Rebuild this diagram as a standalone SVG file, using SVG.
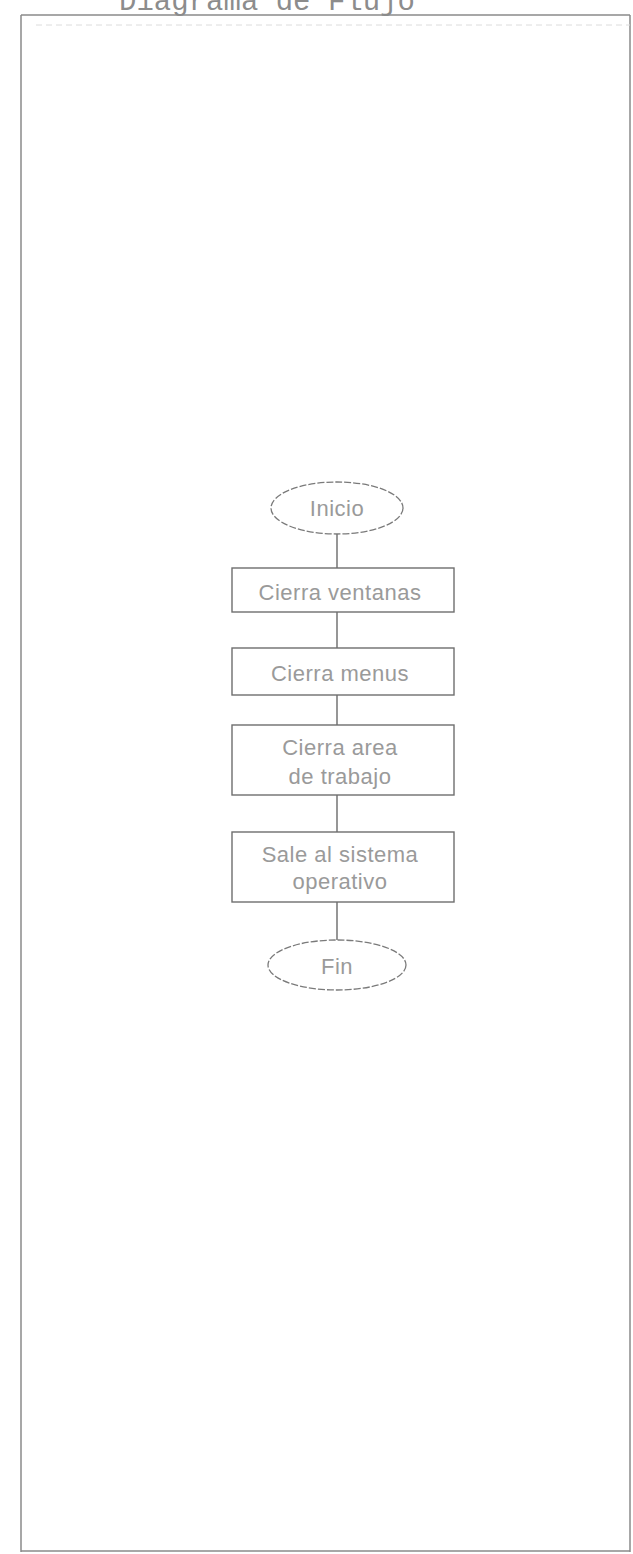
<svg xmlns="http://www.w3.org/2000/svg" width="633" height="1554" viewBox="0 0 633 1554">
<style>
.frame{fill:none;stroke:#8a8a8a;stroke-width:1.5}
.faint{fill:none;stroke:#dcdcdc;stroke-width:1;stroke-dasharray:6 4}
.box{fill:#fff;stroke:#6e6e6e;stroke-width:1.4}
.term{fill:#fff;stroke:#7a7a7a;stroke-width:1.3;stroke-dasharray:7 2}
.conn{stroke:#6a6a6a;stroke-width:1.4;fill:none}
.lbl{font-family:"Liberation Sans",Arial,sans-serif;font-size:22px;fill:#9a9a9a;text-anchor:middle;letter-spacing:0.5px}
.title{font-family:"Liberation Mono","Courier New",monospace;font-size:29px;fill:#8c8c8c;text-anchor:middle}
</style>
<rect width="633" height="1554" fill="#fff"/>
<text class="title" x="267" y="10">Diagrama de Flujo</text>
<g id="frame">
<path class="frame" d="M21 15 L630 15 M21 15 L21 1552 M630 15 L630 1552 M21 1551 L630 1551"/>
<path class="faint" d="M36 25 L630 25"/>
</g>
<g id="connectors">
<line class="conn" x1="337" y1="534" x2="337" y2="568"/>
<line class="conn" x1="337" y1="612" x2="337" y2="648"/>
<line class="conn" x1="337" y1="695" x2="337" y2="725"/>
<line class="conn" x1="337" y1="795" x2="337" y2="832"/>
<line class="conn" x1="337" y1="902" x2="337" y2="940"/>
</g>
<g id="inicio">
<ellipse class="term" cx="337" cy="508" rx="66" ry="26"/>
<text class="lbl" x="337" y="516">Inicio</text>
</g>
<g id="cierra-ventanas">
<rect class="box" x="232" y="568" width="222" height="44"/>
<text class="lbl" x="340" y="600">Cierra ventanas</text>
</g>
<g id="cierra-menus">
<rect class="box" x="232" y="648" width="222" height="47"/>
<text class="lbl" x="340" y="681">Cierra menus</text>
</g>
<g id="cierra-area">
<rect class="box" x="232" y="725" width="222" height="70"/>
<text class="lbl" x="340" y="755">Cierra area</text>
<text class="lbl" x="340" y="784">de trabajo</text>
</g>
<g id="sale-sistema">
<rect class="box" x="232" y="832" width="222" height="70"/>
<text class="lbl" x="340" y="862">Sale al sistema</text>
<text class="lbl" x="340" y="889">operativo</text>
</g>
<g id="fin">
<ellipse class="term" cx="337" cy="965" rx="69" ry="25"/>
<text class="lbl" x="337" y="974">Fin</text>
</g>
</svg>
